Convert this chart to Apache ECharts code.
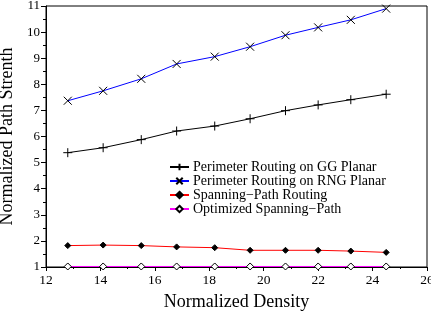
<!DOCTYPE html>
<html lang="en">
<head>
    <meta charset="UTF-8">
    <title>Normalized Path Strenth</title>
    <script src="https://cdn.jsdelivr.net/npm/echarts@6/dist/echarts.min.js"></script>
    <style>
        html, body { margin: 0; padding: 0; background: #fff; }
    </style>
</head>
<body>
    <div id="main" style="width: 431px;height:318px;"></div>
    <script type="text/javascript">
        // data
        var density = [12.8, 14.1, 15.5, 16.8, 18.2, 19.5, 20.8, 22.0, 23.2, 24.5];
        var ggPlanar = [5.38, 5.57, 5.88, 6.21, 6.40, 6.68, 6.99, 7.21, 7.41, 7.62];
        var rngPlanar = [7.37, 7.75, 8.21, 8.78, 9.06, 9.44, 9.88, 10.18, 10.47, 10.90];
        var spanning = [1.82, 1.84, 1.82, 1.77, 1.74, 1.64, 1.64, 1.64, 1.61, 1.56];
        var optimized = [1.02, 1.02, 1.02, 1.02, 1.02, 1.02, 1.02, 1.02, 1.02, 1.02];
        var names = ['Perimeter Routing on GG Planar', 'Perimeter Routing on RNG Planar',
            'Spanning\u2212Path Routing', 'Optimized Spanning\u2212Path'];

        var font = '"Liberation Serif", "DejaVu Serif", serif';

        function pairs(ys) {
            var out = [];
            for (var i = 0; i < density.length; i++) out.push([density[i], ys[i]]);
            return out;
        }

        var plus = 'path://M0,5L10,5M5,0L5,10';
        var cross = 'path://M0,0L10,10M10,0L0,10';

        function mkSeries(name, ys, lineColor, symbol, size, fill) {
            return {
                name: name,
                type: 'line',
                data: pairs(ys),
                symbol: symbol,
                symbolSize: size,
                showAllSymbol: true,
                lineStyle: { color: lineColor, width: 1 },
                itemStyle: { color: fill, borderColor: '#000', borderWidth: 1 },
                emphasis: { disabled: true },
                z: 3
            };
        }

        var myChart = echarts.init(document.getElementById('main'));
        var option = {
            animation: false,
            textStyle: { fontFamily: font },
            grid: {
                left: 46, right: 4, top: 6, bottom: 51,
                outerBoundsMode: 'none',
                containLabel: false,
                show: true, borderColor: '#000', borderWidth: 1
            },
            legend: {
                orient: 'vertical',
                left: 169, top: 160, padding: 0,
                itemWidth: 19, itemHeight: 8, itemGap: 0,
                textStyle: { fontFamily: font, fontSize: 14, color: '#000', padding: [0, 0, 0, -1] },
                data: names
            },
            xAxis: {
                type: 'value',
                min: 12, max: 26, interval: 2,
                name: 'Normalized Density',
                nameLocation: 'middle',
                nameGap: 26,
                nameTextStyle: { fontFamily: font, fontSize: 18, color: '#000' },
                axisLine: { lineStyle: { color: '#000', width: 1 } },
                axisTick: { inside: false, length: 4, lineStyle: { color: '#000' } },
                minorTick: { show: true, splitNumber: 2, length: 2, lineStyle: { color: '#000' } },
                axisLabel: { fontFamily: font, fontSize: 13.5, color: '#000', margin: 6, showMaxLabel: true },
                splitLine: { show: false }
            },
            yAxis: {
                type: 'value',
                min: 1, max: 11, interval: 1,
                name: 'Normalized Path Strenth',
                nameLocation: 'middle',
                nameGap: 21,
                nameTextStyle: { fontFamily: font, fontSize: 18, color: '#000' },
                axisLine: { lineStyle: { color: '#000', width: 1 } },
                axisTick: { inside: false, length: 5, lineStyle: { color: '#000' } },
                minorTick: { show: true, splitNumber: 2, length: 3, lineStyle: { color: '#000' } },
                axisLabel: { fontFamily: font, fontSize: 13, color: '#000', margin: 6 },
                splitLine: { show: false }
            },
            series: [
                mkSeries(names[0], ggPlanar, '#000000', plus, 9, '#000'),
                mkSeries(names[1], rngPlanar, '#0000ff', cross, 8, '#000'),
                mkSeries(names[2], spanning, '#ff0000', 'diamond', 6, '#000'),
                mkSeries(names[3], optimized, '#ff00ff', 'diamond', 7, '#fff')
            ]
        };
        myChart.setOption(option);
    </script>
</body>
</html>
